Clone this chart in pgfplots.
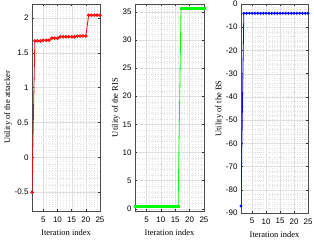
\documentclass[border=0pt]{standalone}
\usepackage{fontspec}
\setmainfont{Liberation Serif}
\newfontfamily\tickfont{Liberation Sans}
\usepackage{pgfplots}
\pgfplotsset{compat=1.18}
\begin{document}
\begin{tikzpicture}
\useasboundingbox (0,0) rectangle (314bp,-242bp);
\pgfplotsset{
  every axis/.append style={
    scale only axis,
    width=68bp, height=207bp,
    anchor=north west,
    xmin=1, xmax=25,
    xtick={5,10,15,20,25},
    minor x tick num=4,
    minor y tick num=4,
    grid=both,
    major grid style={gray!25, line width=0.3pt},
    minor grid style={gray!22, line width=0.25pt, dotted},
    tick align=inside,
    tick style={black!80, line width=0.4pt},
    minor tick length=0pt,
    major tick length=2bp,
    axis line style={black!70, line width=0.4pt},
    ticklabel style={font=\tickfont\fontsize{8}{9}\selectfont},
    xticklabel style={yshift=-2bp},
    /pgf/number format/assume math mode=true,
    label style={font=\fontsize{8.5}{10}\selectfont},
    xlabel={Iteration index},
    xlabel style={yshift=-0.5bp},
    ylabel style={yshift=-4bp},
    scaled y ticks=false,
  }
}
\begin{axis}[at={(32bp,-4bp)},
  ymin=-0.77, ymax=2.2,
  ytick={-0.5,0,0.5,1,1.5,2},
  yticklabels={-0.5,0,0.5,1,1.5,2},
  ylabel={Utility of the attacker}]
\addplot[red, line width=0.8pt, mark=o, mark size=1.3pt] coordinates {
(1,-0.5) (2,1.67) (3,1.67) (4,1.67) (5,1.68) (6,1.68) (7,1.68)
(8,1.71) (9,1.71) (10,1.71)
(11,1.73) (12,1.73) (13,1.73) (14,1.73) (15,1.73) (16,1.73)
(17,1.74) (18,1.74) (19,1.74) (20,1.74)
(21,2.04) (22,2.04) (23,2.04) (24,2.04) (25,2.04)};
\end{axis}
\begin{axis}[at={(135bp,-4bp)}, width=69bp,
  ymin=-0.4, ymax=36.4,
  ytick={0,5,10,15,20,25,30,35},
  ylabel={Utility of the RIS}]
\addplot[green, line width=0.8pt, mark=square*, mark size=1.0pt] coordinates {
(1,0.5) (2,0.5) (3,0.5) (4,0.5) (5,0.5) (6,0.5) (7,0.5) (8,0.5)
(9,0.5) (10,0.5) (11,0.5) (12,0.5) (13,0.5) (14,0.5) (15,0.5) (16,0.5)
(17,35.7) (18,35.7) (19,35.7) (20,35.7) (21,35.7) (22,35.7) (23,35.7) (24,35.7) (25,35.7)};
\end{axis}
\begin{axis}[at={(241bp,-4bp)}, width=67bp, height=209bp,
  ymin=-90, ymax=0,
  ytick={-90,-80,-70,-60,-50,-40,-30,-20,-10,0},
  ylabel={Utility of the BS}]
\addplot[blue, line width=0.8pt, mark=*, mark size=1.0pt] coordinates {
(1,-87) (2,-4) (3,-4) (4,-4) (5,-4) (6,-4) (7,-4) (8,-4) (9,-4) (10,-4)
(11,-4) (12,-4) (13,-4) (14,-4) (15,-4) (16,-4) (17,-4) (18,-4) (19,-4)
(20,-4) (21,-4) (22,-4) (23,-4) (24,-4) (25,-4)};
\end{axis}
\end{tikzpicture}
\end{document}
